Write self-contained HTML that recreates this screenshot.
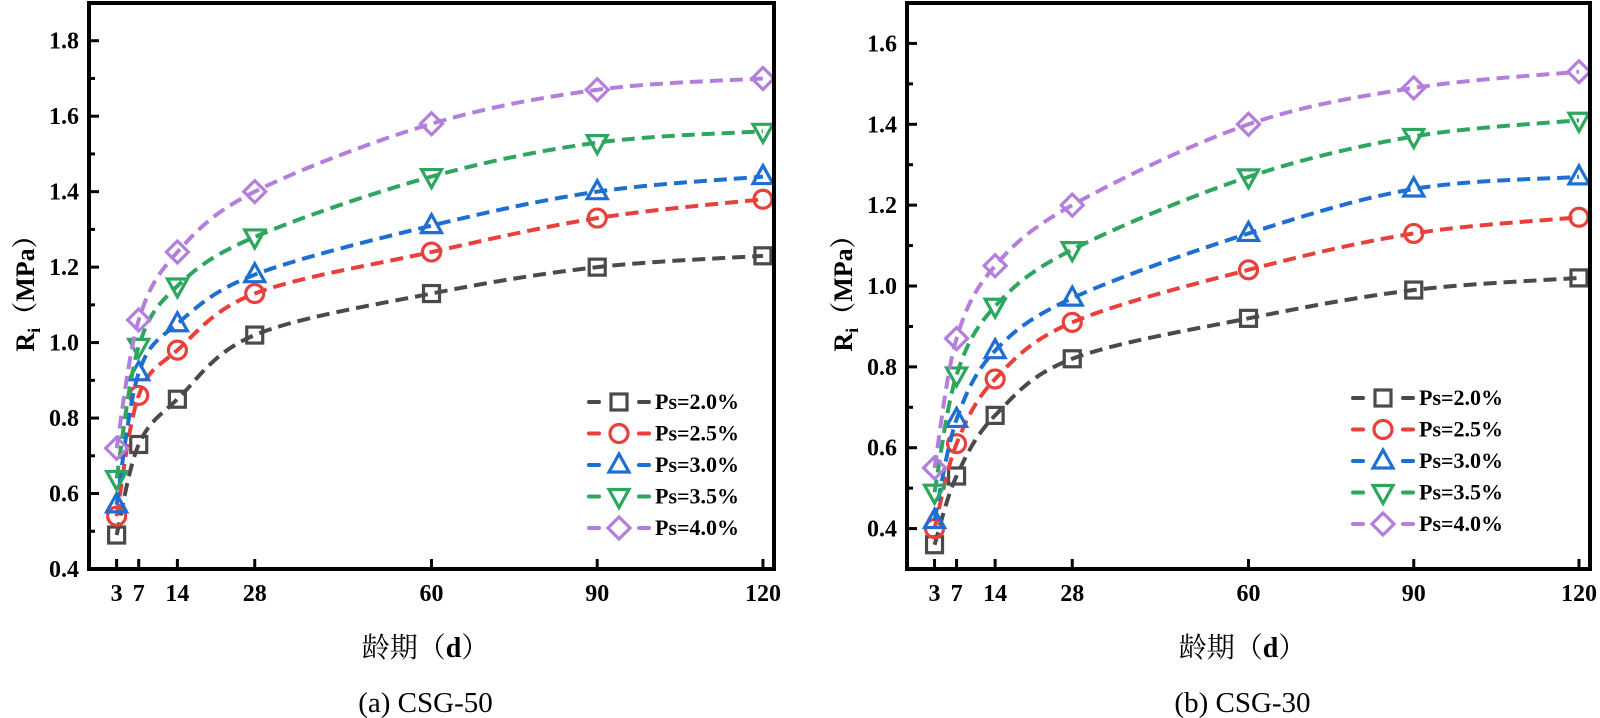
<!DOCTYPE html>
<html><head><meta charset="utf-8"><style>
body{margin:0;background:#fff;width:1600px;height:718px;overflow:hidden}
svg{display:block}
text{font-family:"Liberation Serif","Noto Serif CJK SC",serif}
</style></head><body>
<svg id="c" width="1600" height="718" xmlns="http://www.w3.org/2000/svg"></svg>
<script>
const days=[3,7,14,28,60,90,120];
const seriesNames=["Ps=2.0%","Ps=2.5%","Ps=3.0%","Ps=3.5%","Ps=4.0%"];
const leftPs20=[0.49,0.73,0.85,1.02,1.13,1.20,1.23];
const leftPs25=[0.54,0.86,0.98,1.13,1.24,1.33,1.38];
const leftPs30=[0.57,0.92,1.05,1.18,1.31,1.40,1.44];
const leftPs35=[0.64,0.99,1.15,1.28,1.44,1.53,1.56];
const leftPs40=[0.72,1.06,1.24,1.40,1.58,1.67,1.70];
const rightPs20=[0.36,0.53,0.68,0.82,0.92,0.99,1.02];
const rightPs25=[0.40,0.61,0.77,0.91,1.04,1.13,1.17];
const rightPs30=[0.42,0.67,0.84,0.97,1.13,1.24,1.27];
const rightPs35=[0.49,0.78,0.95,1.09,1.27,1.37,1.41];
const rightPs40=[0.55,0.87,1.05,1.20,1.40,1.49,1.53];
const leftYTicks=[0.4,0.6,0.8,1.0,1.2,1.4,1.6,1.8];
const rightYTicks=[0.4,0.6,0.8,1.0,1.2,1.4,1.6];
const colors=["#4a4a4a","#e8413c","#1f6fd1","#2ea660","#b47fdc"];
const markers=["square","circle","up","down","diamond"];
const NS="http://www.w3.org/2000/svg";
const svg=document.getElementById('c');
function mk(tag,attrs,parent){const e=document.createElementNS(NS,tag);for(const k in attrs)e.setAttribute(k,attrs[k]);(parent||svg).appendChild(e);return e;}
function marker(g,type,x,y,col){
  const s={fill:"none",stroke:col,"stroke-width":3.2};
  let e;
  if(type==="square")e=mk("rect",Object.assign({x:x-8,y:y-8,width:16,height:16},s),g);
  else if(type==="circle")e=mk("circle",Object.assign({cx:x,cy:y,r:9},s),g);
  else if(type==="up")e=mk("polygon",Object.assign({points:`${x},${y-11} ${x+10},${y+7} ${x-10},${y+7}`},s),g);
  else if(type==="down")e=mk("polygon",Object.assign({points:`${x},${y+11} ${x+10},${y-7} ${x-10},${y-7}`},s),g);
  else e=mk("polygon",Object.assign({points:`${x},${y-11} ${x+11},${y} ${x},${y+11} ${x-11},${y}`},s),g);
  return e;
}
function smoothPath(pts){
  let d=`M${pts[0][0]},${pts[0][1]}`;
  for(let i=0;i<pts.length-1;i++){
    const p0=pts[Math.max(0,i-1)],p1=pts[i],p2=pts[i+1],p3=pts[Math.min(pts.length-1,i+2)];
    const t=6;
    d+=` C${p1[0]+(p2[0]-p0[0])/t},${p1[1]+(p2[1]-p0[1])/t} ${p2[0]-(p3[0]-p1[0])/t},${p2[1]-(p3[1]-p1[1])/t} ${p2[0]},${p2[1]}`;
  }
  return d;
}
function panel(o){
  const g=mk("g",{});
  
  
  const X=d=>o.left+(d-(-2))/(124)*(o.right-o.left);
  const Y=v=>o.bottom-(v-o.ymin)/(o.ymax-o.ymin)*(o.bottom-o.top);
  o.data.forEach((vals,si)=>{
    const sg=mk("g",{},g);
    
    
    const pts=days.map((d,i)=>[X(d),Y(vals[i])]);
    mk("path",{d:smoothPath(pts),fill:"none",stroke:colors[si],"stroke-width":4,"stroke-dasharray":"13,7"},sg);
    pts.forEach(p=>{const m=marker(sg,markers[si],p[0],p[1],colors[si]);});
  });
  const box=mk("rect",{x:o.left,y:o.top,width:o.right-o.left,height:o.bottom-o.top,fill:"none",stroke:"#000","stroke-width":4},g);
  
  o.yticks.forEach(v=>{
    const y=Y(v);
    mk("line",{x1:o.left,x2:o.left+10,y1:y,y2:y,stroke:"#000","stroke-width":3},g);
    mk("line",{x1:o.left,x2:o.left+6,y1:Y(v+0.1),y2:Y(v+0.1),stroke:"#000","stroke-width":3},g);
    const t=mk("text",{x:o.left-10,y:y+8,"text-anchor":"end","font-size":24,"font-weight":"bold"},g);
    t.textContent=v.toFixed(1);
    
  });
  days.forEach(d=>{
    const x=X(d);
    mk("line",{x1:x,x2:x,y1:o.bottom,y2:o.bottom-10,stroke:"#000","stroke-width":3},g);
    const t=mk("text",{x:x,y:o.bottom+32,"text-anchor":"middle","font-size":24,"font-weight":"bold"},g);
    t.textContent=d;
    
  });
  const cx=(o.left+o.right)/2-6;
  const xt=mk("text",{x:cx,y:657,"text-anchor":"middle","font-size":28},g);
  xt.innerHTML='龄期（<tspan font-weight="bold">d</tspan>）';
  
  const yt=mk("text",{transform:`translate(${o.left-55},287) rotate(-90)`,"text-anchor":"middle","font-size":26,"font-weight":"bold"},g);
  yt.innerHTML='R<tspan font-size="18" dy="6">i</tspan><tspan dy="-6">（MPa）</tspan>';
  
  const cap=mk("text",{x:cx,y:712,"text-anchor":"middle","font-size":29},g);
  cap.textContent=o.caption;
  
  seriesNames.forEach((n,si)=>{
    const lg=mk("g",{},g);
    
    const y=o.legY+si*31.5;
    mk("line",{x1:o.legX-30,x2:o.legX-20,y1:y,y2:y,stroke:colors[si],"stroke-width":4,"stroke-linecap":"round"},lg);
    mk("line",{x1:o.legX+20,x2:o.legX+30,y1:y,y2:y,stroke:colors[si],"stroke-width":4,"stroke-linecap":"round"},lg);
    marker(lg,markers[si],o.legX,y,colors[si]);
    const t=mk("text",{x:o.legX+36,y:y+7,"font-size":22,"font-weight":"bold"},lg);
    t.textContent=n;
  });
}
panel({name:"panel-a-csg50",left:89,right:774,top:3,bottom:569,ymin:0.4,ymax:1.9,yticks:leftYTicks,
  data:[leftPs20,leftPs25,leftPs30,leftPs35,leftPs40],caption:"(a) CSG-50",legX:619,legY:402});
panel({name:"panel-b-csg30",left:907,right:1590,top:3,bottom:569,ymin:0.3,ymax:1.7,yticks:rightYTicks,
  data:[rightPs20,rightPs25,rightPs30,rightPs35,rightPs40],caption:"(b) CSG-30",legX:1383,legY:398});
</script>
</body></html>
